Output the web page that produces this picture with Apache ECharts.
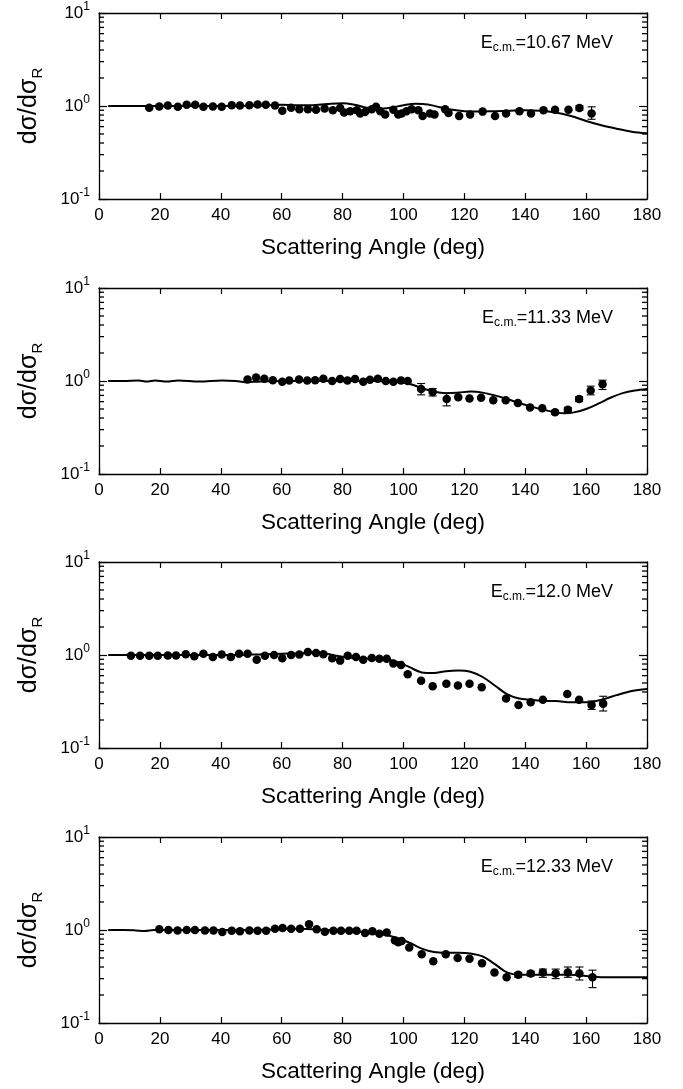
<!DOCTYPE html>
<html>
<head>
<meta charset="utf-8">
<script src="https://cdn.jsdelivr.net/npm/echarts@6/dist/echarts.min.js"></script>
<style>html,body{margin:0;padding:0;background:#fff}#c{width:683px;height:1089px}</style>
</head>
<body>
<div id="c"></div>
<script>
// ---------- data ----------
const energies = ['10.67', '11.33', '12.0', '12.33'];
const xTicks = [0, 20, 40, 60, 80, 100, 120, 140, 160, 180];
const minorTickValues = [0.2,0.3,0.4,0.5,0.6,0.7,0.8,0.9,2,3,4,5,6,7,8,9];

const angle1 = [16.5,19.8,22.6,25.9,28.8,31.6,34.3,37.4,40.3,43.6,46.3,49.4,52.1,54.8,57.8,60.2,63.1,65.8,68.6,71.3,74.1,76.8,79.2,80.5,82.5,84.7,85.8,87.4,89.6,91.0,92.4,94.0,96.7,98.3,99.4,101.0,102.7,104.9,106.3,108.7,110.2,113.7,114.8,118.3,121.9,126.0,130.1,133.7,138.1,141.9,146.0,149.8,154.2,157.8,161.8];
const ratio1 = [0.96,0.99,1.01,0.98,1.03,1.03,0.98,0.99,0.98,1.02,1.01,1.02,1.04,1.03,1.01,0.89,0.96,0.92,0.92,0.91,0.94,0.90,0.95,0.85,0.88,0.90,0.83,0.86,0.92,0.98,0.88,0.81,0.91,0.81,0.83,0.88,0.92,0.90,0.78,0.83,0.81,0.92,0.84,0.78,0.81,0.87,0.78,0.83,0.88,0.83,0.90,0.91,0.91,0.95,0.83];
const err1 = [[157.8,0.90,1.01],[161.8,0.72,0.98]];
const curveAngle1 = [3,10,20,30,40,50,55,60,65,70,75,80,84,88,92,96,100,104,108,112,116,120,125,130,135,140,145,150,155,160,165,170,175,180];
const curveVal1 = [1.0,1.0,1.0,1.0,1.0,1.01,1.02,1.03,1.02,1.02,1.05,1.07,1.03,0.96,0.93,0.96,1.02,1.06,1.04,0.97,0.91,0.88,0.87,0.88,0.89,0.90,0.89,0.85,0.78,0.69,0.62,0.57,0.53,0.51];

const angle2 = [48.8,51.6,54.3,57.1,60.2,62.5,65.7,68.4,71.0,73.7,76.6,79.2,81.6,84.1,86.8,89.0,91.6,94.2,96.7,99.2,101.4,105.8,109.6,114.2,118.0,121.7,125.5,129.5,133.6,137.6,141.6,145.6,149.8,154.0,157.7,161.5,165.4];
const ratio2 = [1.04,1.09,1.06,1.02,0.98,1.01,1.04,1.01,1.02,1.06,1.00,1.05,1.01,1.05,0.98,1.03,1.06,1.00,0.98,1.01,1.00,0.82,0.76,0.64,0.67,0.65,0.66,0.62,0.62,0.58,0.52,0.51,0.46,0.49,0.64,0.79,0.92];
const err2 = [[105.8,0.71,0.94],[109.6,0.69,0.83],[114.2,0.54,0.74],[149.8,0.44,0.48],[154.0,0.46,0.52],[157.7,0.60,0.68],[161.5,0.71,0.88],[165.4,0.81,1.02]];
const curveAngle2 = [3,8,13,15.7,18.4,22.2,26,33,40.3,45,48,53,60,70,80,90,96,100,103,106,110,114,118,122,126,130,134,138,142,146,150,153,156,160,164,168,172,176,180];
const curveVal2 = [1.0,1.0,1.015,0.985,1.015,0.985,1.015,0.985,1.015,1.0,0.97,0.99,1.0,1.0,1.0,1.0,0.99,0.96,0.91,0.84,0.77,0.74,0.75,0.77,0.75,0.70,0.64,0.58,0.53,0.49,0.46,0.45,0.46,0.50,0.57,0.66,0.74,0.79,0.82];

const angle3 = [10.5,13.5,16.5,19.3,22.6,25.3,28.5,31.3,34.3,37.4,40.3,43.3,46.0,48.8,51.8,54.5,57.5,60.2,63.1,65.8,68.6,71.3,73.7,76.6,79.2,81.7,84.4,86.8,89.6,92.1,94.5,96.7,99.2,101.4,105.8,109.6,114.1,117.9,121.7,125.7,133.7,137.8,141.8,145.8,153.8,157.7,161.8,165.6];
const ratio3 = [0.98,0.98,0.98,0.98,0.99,0.99,1.02,0.97,1.03,0.95,1.01,0.95,1.03,1.03,0.89,0.98,1.00,0.92,1.00,1.01,1.08,1.05,1.02,0.92,0.87,0.98,0.95,0.89,0.93,0.91,0.91,0.81,0.78,0.62,0.53,0.46,0.49,0.47,0.49,0.45,0.34,0.29,0.31,0.33,0.38,0.33,0.29,0.30];
const err3 = [[161.8,0.26,0.32],[165.6,0.25,0.36]];
const curveAngle3 = [3,10,20,30,40,50,55,60,65,70,75,78,82,86,90,94,98,102,106,110,114,118,122,126,130,134,138,142,146,150,155,160,165,170,175,180];
const curveVal3 = [1.0,1.0,1.0,1.0,1.0,1.01,1.02,1.03,1.04,1.05,1.03,0.98,0.94,0.92,0.91,0.90,0.84,0.74,0.65,0.64,0.67,0.68,0.66,0.58,0.47,0.38,0.34,0.33,0.32,0.32,0.31,0.31,0.33,0.37,0.41,0.43];

const angle4 = [19.8,22.8,25.8,28.8,31.5,34.8,37.6,40.5,43.6,46.3,49.4,52.1,54.9,57.8,60.3,63.1,66.0,69.0,71.5,74.2,77.0,79.5,82.2,84.6,87.4,89.8,92.1,94.5,97.2,98.3,99.4,101.9,106.0,109.8,113.9,117.8,121.7,125.8,129.9,133.9,137.7,141.8,145.8,150.0,154.0,157.8,162.1];
const ratio4 = [1.02,1.00,0.99,1.00,1.00,0.99,0.99,0.95,0.98,0.97,0.99,0.98,0.98,1.03,1.05,1.03,1.03,1.15,1.02,0.96,0.98,0.98,0.98,0.98,0.93,0.97,0.91,0.94,0.77,0.74,0.76,0.65,0.55,0.46,0.55,0.50,0.49,0.44,0.35,0.31,0.33,0.34,0.35,0.34,0.35,0.34,0.31];
const err4 = [[137.7,0.31,0.35],[141.8,0.32,0.36],[145.8,0.31,0.38],[150.0,0.30,0.38],[154.0,0.31,0.40],[157.8,0.29,0.40],[162.1,0.24,0.37]];
const curveAngle4 = [3,8,12,15,18,22,30,40,50,60,65,70,75,80,85,90,94,98,102,106,110,114,118,122,126,130,134,138,142,146,150,155,160,165,170,175,180];
const curveVal4 = [1.0,1.0,0.99,0.975,1.0,1.0,1.0,1.0,1.0,1.02,1.03,1.02,1.0,0.98,0.96,0.93,0.89,0.82,0.73,0.63,0.58,0.57,0.57,0.56,0.52,0.43,0.35,0.33,0.33,0.33,0.33,0.33,0.32,0.31,0.31,0.31,0.31];

// ---------- build ----------
const panels = [
  {angle: angle1, ratio: ratio1, err: err1, ca: curveAngle1, cv: curveVal1},
  {angle: angle2, ratio: ratio2, err: err2, ca: curveAngle2, cv: curveVal2},
  {angle: angle3, ratio: ratio3, err: err3, ca: curveAngle3, cv: curveVal3},
  {angle: angle4, ratio: ratio4, err: err4, ca: curveAngle4, cv: curveVal4}
];
const FONT = '"Liberation Sans", Arial, Helvetica, sans-serif';
const panelTops = [13, 288, 562, 837];
const gridLeft = 99, gridRight = 36, gridH = 186;

const option = {
  animation: false,
  backgroundColor: '#fff',
  textStyle: {fontFamily: FONT, color: '#000'},
  grid: [], xAxis: [], yAxis: [], series: [], title: []
};

const axisLine = {show: true, onZero: false, lineStyle: {color: '#000', width: 1.3}};
const txt = (size, extra) => Object.assign({fontSize: size, fontFamily: FONT, color: '#000', fontWeight: 'normal'}, extra || {});

panels.forEach((p, i) => {
  const top = panelTops[i];
  option.grid.push({left: gridLeft, right: gridRight, top: top, height: gridH});
  option.xAxis.push({
    type: 'value', gridIndex: i, min: 0, max: 180, interval: 20, position: 'bottom',
    axisLine: axisLine,
    axisTick: {show: true, inside: true, length: 6, lineStyle: {color: '#000', width: 1.2}},
    axisLabel: {show: true, fontSize: 17, fontFamily: FONT, color: '#000', margin: 8,
      showMinLabel: true, showMaxLabel: true,
      formatter: v => xTicks.indexOf(v) >= 0 ? String(v) : ''},
    splitLine: {show: false},
    name: 'Scattering Angle (deg)', nameLocation: 'middle', nameGap: 37,
    nameTextStyle: txt(22.5)
  });
  option.xAxis.push({
    type: 'value', gridIndex: i, min: 0, max: 180, interval: 20, position: 'top',
    axisLine: axisLine,
    axisTick: {show: true, inside: true, length: 6, lineStyle: {color: '#000', width: 1.2}},
    axisLabel: {show: false}, splitLine: {show: false}
  });
  const xb = i * 2;
  const yBase = i * 2;
  option.yAxis.push({
    type: 'log', logBase: 10, gridIndex: i, min: 0.1, max: 10, position: 'left',
    axisLine: axisLine,
    axisTick: {show: true, inside: true, length: 8, lineStyle: {color: '#000', width: 1.2}},
    axisLabel: {show: true, margin: 9, fontFamily: FONT, color: '#000',
      formatter: v => '{n|10}{e|' + Math.round(Math.log10(v)) + '}',
      rich: {
        n: txt(17, {lineHeight: 24, verticalAlign: 'middle'}),
        e: txt(12, {lineHeight: 12, verticalAlign: 'top'})
      }},
    splitLine: {show: false},
    name: '{a|dσ/dσ}{b|R}', nameLocation: 'middle', nameRotate: 90, nameGap: 54,
    nameTextStyle: {fontFamily: FONT, color: '#000', rich: {
      a: txt(25, {lineHeight: 32, verticalAlign: 'middle'}),
      b: txt(15, {lineHeight: 15, verticalAlign: 'bottom'})
    }}
  });
  option.yAxis.push({
    type: 'log', logBase: 10, gridIndex: i, min: 0.1, max: 10, position: 'right',
    axisLine: axisLine,
    axisTick: {show: true, inside: true, length: 8, lineStyle: {color: '#000', width: 1.2}},
    axisLabel: {show: false}, splitLine: {show: false}
  });
  // minor log ticks on both vertical frame edges
  option.series.push({
    type: 'custom', xAxisIndex: xb, yAxisIndex: yBase, silent: true, clip: false, z: 5,
    encode: {x: 0, y: 1},
    data: minorTickValues.map(v => [0, v]),
    renderItem: (params, api) => {
      const cs = params.coordSys;
      const y = api.coord([0, api.value(1)])[1];
      const st = {stroke: '#000', lineWidth: 1.3};
      return {type: 'group', children: [
        {type: 'line', shape: {x1: cs.x, y1: y, x2: cs.x + 5, y2: y}, style: st},
        {type: 'line', shape: {x1: cs.x + cs.width - 5, y1: y, x2: cs.x + cs.width, y2: y}, style: st}
      ]};
    }
  });
  option.series.push({
    type: 'line', xAxisIndex: xb, yAxisIndex: yBase, smooth: 0.35, showSymbol: false, symbol: 'none',
    lineStyle: {color: '#000', width: 2}, z: 2,
    data: p.ca.map((a, k) => [a, p.cv[k]])
  });
  option.series.push({
    type: 'custom', xAxisIndex: xb, yAxisIndex: yBase, z: 3,
    encode: {x: 0, y: [1, 2]},
    data: p.err,
    renderItem: (params, api) => {
      const x = api.value(0);
      const lo = api.coord([x, api.value(1)]);
      const hi = api.coord([x, api.value(2)]);
      const w = 4;
      const st = {stroke: '#000', lineWidth: 1.1};
      return {type: 'group', children: [
        {type: 'line', shape: {x1: lo[0], y1: lo[1], x2: hi[0], y2: hi[1]}, style: st},
        {type: 'line', shape: {x1: lo[0] - w, y1: lo[1], x2: lo[0] + w, y2: lo[1]}, style: st},
        {type: 'line', shape: {x1: hi[0] - w, y1: hi[1], x2: hi[0] + w, y2: hi[1]}, style: st}
      ]};
    }
  });
  option.series.push({
    type: 'scatter', xAxisIndex: xb, yAxisIndex: yBase, symbol: 'circle', symbolSize: 8.5,
    itemStyle: {color: '#000', opacity: 1}, z: 4,
    data: p.angle.map((a, k) => [a, p.ratio[k]])
  });
  option.title.push({
    text: '{e|E}{s|c.m.}{t|=' + energies[i] + ' MeV}',
    right: 65, top: top + 14,
    textStyle: {fontFamily: FONT, color: '#000', fontWeight: 'normal', rich: {
      e: txt(18, {lineHeight: 22, verticalAlign: 'middle'}),
      s: txt(12, {lineHeight: 12, verticalAlign: 'bottom'}),
      t: txt(18, {lineHeight: 22, verticalAlign: 'middle'})
    }}
  });
});

const chart = echarts.init(document.getElementById('c'), null, {renderer: 'canvas'});
chart.setOption(option);
</script>
</body>
</html>
